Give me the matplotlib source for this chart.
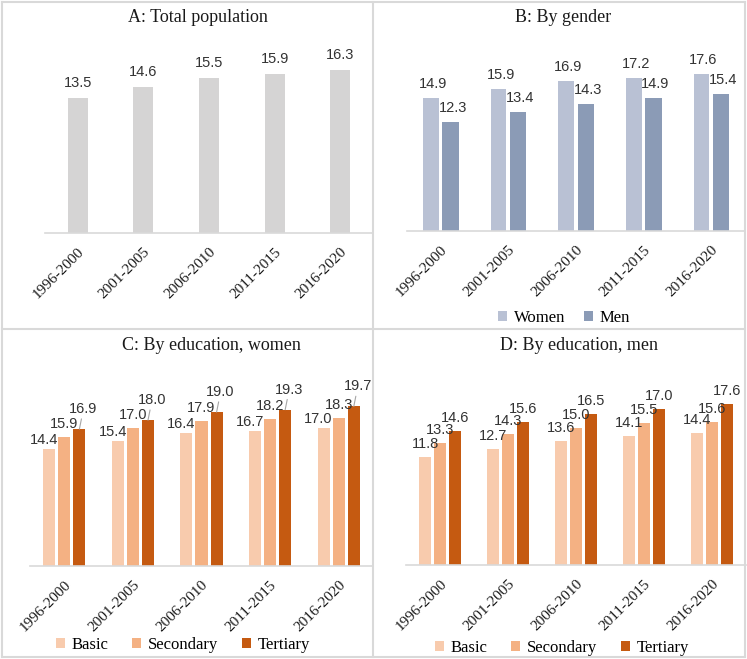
import numpy as np
import matplotlib.pyplot as plt
from matplotlib.lines import Line2D

periods = ['1996-2000', '2001-2005', '2006-2010', '2011-2015', '2016-2020']

total = [13.5, 14.6, 15.5, 15.9, 16.3]

women = [14.9, 15.9, 16.9, 17.2, 17.6]
men = [12.3, 13.4, 14.3, 14.9, 15.4]

edu_labels = ['Basic', 'Secondary', 'Tertiary']
women_basic = [14.4, 15.4, 16.4, 16.7, 17.0]
women_secondary = [15.9, 17.0, 17.9, 18.2, 18.3]
women_tertiary = [16.9, 18.0, 19.0, 19.3, 19.7]
men_basic = [11.8, 12.7, 13.6, 14.1, 14.4]
men_secondary = [13.3, 14.3, 15.0, 15.5, 15.6]
men_tertiary = [14.6, 15.6, 16.5, 17.0, 17.6]

SERIF = 'Liberation Serif'
SANS = 'Liberation Sans'
EDU_COLORS = ['#f8cbad', '#f4b183', '#c55a11']

W, H = 747, 659
fig = plt.figure(figsize=(W / 100, H / 100), dpi=100)


def px_axes(x0, x1, base, top):
    # axes placed in pixel coords measured from the top-left corner
    return fig.add_axes([x0 / W, (H - base) / H, (x1 - x0) / W, (base - top) / H])


def style(ax):
    for s in ['top', 'left', 'right']:
        ax.spines[s].set_visible(False)
    ax.spines['bottom'].set_color('#d9d9d9')
    ax.spines['bottom'].set_linewidth(1.2)
    ax.set_yticks([])
    ax.set_xlim(-0.5, len(periods) - 0.5)
    ax.set_ylim(0, 20)
    ax.set_xticks(np.arange(len(periods)))
    ax.set_xticklabels(periods, rotation=45, ha='right', rotation_mode='anchor',
                       family=SERIF, fontsize=11, color='#1a1a1a')
    ax.tick_params(axis='x', length=0, pad=9)


def label(ax, x, y, dx=0, dy=7, leader=False):
    kw = {}
    if leader:
        kw['arrowprops'] = dict(arrowstyle='-', color='#a6a6a6', lw=0.8,
                                shrinkA=0, shrinkB=0)
    ax.annotate('%.1f' % y, xy=(x, y), xytext=(dx, dy), textcoords='offset pixels',
                ha='center', va='bottom', family=SANS, fontsize=10.5, color='#333333', **kw)


# A: total population
ax = px_axes(45, 373, 233, 33)
style(ax)
x = np.arange(len(periods))
ax.bar(x, total, width=0.305, color='#d5d4d4')
for xi, v in zip(x, total):
    label(ax, xi, v, dy=8)

# B: by gender
ax = px_axes(407, 745, 231, 53)
style(ax)
off = 0.145
ax.bar(x - off, women, width=0.23, color='#b9c1d4', label='Women')
ax.bar(x + off, men, width=0.24, color='#8b9bb6', label='Men')
for xi, v in zip(x, women):
    label(ax, xi - off, v, dx=2, dy=7)
for xi, v in zip(x, men):
    label(ax, xi + off, v, dx=2, dy=7)
h, l = ax.get_legend_handles_labels()
fig.legend(h, l, loc='center', bbox_to_anchor=(564 / W, 1 - 318 / H), ncol=2,
           frameon=False, prop={'family': SERIF, 'size': 12}, handlelength=0.55,
           handleheight=0.55, handletextpad=0.4, columnspacing=1.1)

# C and D: by education
panels = [
    (px_axes(30, 373, 566, 404), [women_basic, women_secondary, women_tertiary], True,
     (183, 645)),
    (px_axes(406, 746, 565, 382), [men_basic, men_secondary, men_tertiary], False,
     (562, 648)),
]
for ax, series, leaders, leg_pos in panels:
    style(ax)
    step = 0.22
    for i, (vals, name, col) in enumerate(zip(series, edu_labels, EDU_COLORS)):
        xs = x + (i - 1) * step
        ax.bar(xs, vals, width=0.176, color=col, label=name)
        for xi, v in zip(xs, vals):
            if leaders:
                dx, dy = [(-5, 2), (0, 6), (4, 13)][i]
                label(ax, xi, v, dx=dx, dy=dy, leader=(i == 2))
            else:
                label(ax, xi, v, dy=6)
    h, l = ax.get_legend_handles_labels()
    fig.legend(h, l, loc='center', bbox_to_anchor=(leg_pos[0] / W, 1 - leg_pos[1] / H),
               ncol=3, frameon=False, prop={'family': SERIF, 'size': 12},
               handlelength=0.55, handleheight=0.55, handletextpad=0.4, columnspacing=1.4)

# panel titles
titles = [('A: Total population', 198, 17), ('B: By gender', 563, 17),
          ('C: By education, women', 211, 345), ('D: By education, men', 579, 345)]
for t, tx, ty in titles:
    fig.text(tx / W, 1 - ty / H, t, ha='center', va='center', family=SERIF,
             fontsize=13, color='#1a1a1a')

# panel borders
bc = '#d9d9d9'
for xs, ys in [([2, 745], [2, 2]), ([2, 745], [657, 657]), ([2, 2], [2, 657]),
               ([745, 745], [2, 657]), ([373, 373], [2, 657]), ([2, 745], [329, 329])]:
    fig.add_artist(Line2D([v / W for v in xs], [1 - v / H for v in ys], color=bc, lw=1.5))

plt.savefig('out.png', dpi=100)
